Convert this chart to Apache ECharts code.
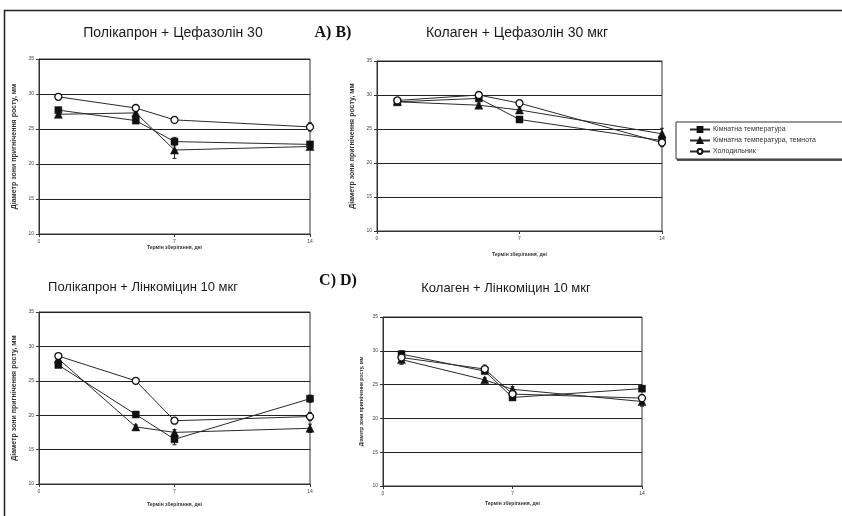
<!DOCTYPE html>
<html><head><meta charset="utf-8">
<script src="https://cdn.jsdelivr.net/npm/echarts@6/dist/echarts.min.js"></script>
<style>html,body{margin:0;padding:0;background:#fff}#c{width:842px;height:516px}</style>
</head><body><div id="c"></div>
<script>
// ---- data ----
const seriesNames = ['Кімнатна температура', 'Кімнатна температура, темнота', 'Холодильник'];
const panelTitles = ['Полікапрон + Цефазолін 30', 'Колаген + Цефазолін 30 мкг', 'Полікапрон + Лінкоміцин 10 мкг', 'Колаген + Лінкоміцин 10 мкг'];
const xTicks = [0, 7, 14];
const yTicks = [10, 15, 20, 25, 30, 35];
const yAxisTitle = 'Діаметр зони пригнічення росту, мм';
const xAxisTitle = 'Термін зберігання, дні';

const daysA = [1, 5, 7, 14];
const daysB = [1, 5, 7, 14];
const daysC = [1, 5, 7, 14];
const daysD = [1, 5.5, 7, 14];

// A) Полікапрон + Цефазолін 30
const aRoom = [27.7, 26.2, 23.2, 22.8];
const aDark = [27.1, 27.3, 22.0, 22.5];
const aFridge = [29.6, 28.0, 26.3, 25.3];
const aRoomErr = [0.3, 0.3, 0.6, 0.3];
const aDarkErr = [0.3, 0.3, 1.2, 0.3];
const aFridgeErr = [0.2, 0.2, 0.4, 0.6];

// B) Колаген + Цефазолін 30 мкг
const bRoom = [29.0, 29.5, 26.4, 23.3];
const bDark = [29.0, 28.5, 27.8, 24.3];
const bFridge = [29.2, 30.0, 28.8, 23.0];
const bRoomErr = [0.2, 0.3, 0.3, 0.3];
const bDarkErr = [0.2, 0.3, 0.3, 0.8];
const bFridgeErr = [0.2, 0.3, 0.3, 0.6];

// C) Полікапрон + Лінкоміцин 10 мкг
const cRoom = [27.3, 20.1, 16.5, 22.4];
const cDark = [28.2, 18.3, 17.5, 18.1];
const cFridge = [28.6, 25.0, 19.2, 19.8];
const cRoomErr = [0.3, 0.3, 0.8, 0.5];
const cDarkErr = [0.2, 0.3, 0.4, 0.6];
const cFridgeErr = [0.2, 0.2, 0.3, 0.6];

// D) Колаген + Лінкоміцин 10 мкг
const dRoom = [29.5, 27.0, 23.1, 24.4];
const dDark = [28.7, 25.7, 24.3, 22.5];
const dFridge = [29.0, 27.3, 23.6, 23.0];
const dRoomErr = [0.5, 0.3, 0.3, 0.4];
const dDarkErr = [0.7, 0.3, 0.4, 0.7];
const dFridgeErr = [0.4, 0.6, 0.4, 0.5];

// ---- layout / style ----
const panels = [
  {days: daysA, vals: [aRoom, aDark, aFridge], errs: [aRoomErr, aDarkErr, aFridgeErr],
   grid: {left: 39, top: 59, width: 271, height: 175}, yName: {size: 7, gap: 21}, xName: {size: 5, gap: 11}},
  {days: daysB, vals: [bRoom, bDark, bFridge], errs: [bRoomErr, bDarkErr, bFridgeErr],
   grid: {left: 377, top: 61, width: 285, height: 170}, yName: {size: 7, gap: 21}, xName: {size: 5, gap: 21}},
  {days: daysC, vals: [cRoom, cDark, cFridge], errs: [cRoomErr, cDarkErr, cFridgeErr],
   grid: {left: 39, top: 312, width: 271, height: 172}, yName: {size: 7, gap: 21}, xName: {size: 5, gap: 18}},
  {days: daysD, vals: [dRoom, dDark, dFridge], errs: [dRoomErr, dDarkErr, dFridgeErr],
   grid: {left: 383, top: 317, width: 259, height: 169}, yName: {size: 5, gap: 19}, xName: {size: 5, gap: 15}}
];
const symbols = ['rect', 'triangle', 'circle'];
const lineColor = '#2a2a2a';

const grids = [], xAxes = [], yAxes = [], series = [];
panels.forEach((p, i) => {
  grids.push(Object.assign({show: true, borderColor: '#333', borderWidth: 1, backgroundColor: '#fff'}, p.grid));
  xAxes.push({
    type: 'value', gridIndex: i, min: xTicks[0], max: xTicks[xTicks.length - 1], interval: 7,
    name: xAxisTitle, nameLocation: 'middle', nameGap: p.xName.gap,
    nameTextStyle: {fontSize: p.xName.size, fontWeight: 'bold', color: '#333', fontFamily: 'Liberation Sans'},
    axisLine: {show: true, onZero: false, lineStyle: {color: '#333', width: 1}},
    axisTick: {show: true, length: 3, lineStyle: {color: '#333'}},
    axisLabel: {fontSize: 5, color: '#444', margin: 5, fontFamily: 'Liberation Sans'},
    splitLine: {show: false}
  });
  yAxes.push({
    type: 'value', gridIndex: i, min: yTicks[0], max: yTicks[yTicks.length - 1], interval: 5,
    name: yAxisTitle, nameLocation: 'middle', nameGap: p.yName.gap, nameRotate: 90,
    nameTextStyle: {fontSize: p.yName.size, fontWeight: 'bold', color: '#333', fontFamily: 'Liberation Sans'},
    axisLine: {show: true, lineStyle: {color: '#333', width: 1}},
    axisTick: {show: true, length: 3, lineStyle: {color: '#333'}},
    axisLabel: {fontSize: 5, color: '#444', margin: 5, fontFamily: 'Liberation Sans'},
    splitLine: {show: true, lineStyle: {color: '#222', width: 1.2}}
  });
  const errData = [];
  seriesNames.forEach((name, k) => {
    const data = p.days.map((d, j) => [d, p.vals[k][j]]);
    p.days.forEach((d, j) => errData.push([d, p.vals[k][j], p.errs[k][j]]));
    series.push({
      type: 'line', name: name, xAxisIndex: i, yAxisIndex: i, data: data,
      symbol: symbols[k], symbolSize: k === 1 ? 8 : 7, showAllSymbol: true,
      lineStyle: {color: lineColor, width: 1},
      itemStyle: k === 2 ? {color: '#fff', borderColor: '#111', borderWidth: 1.3} : {color: '#111', borderColor: '#111', borderWidth: 0.5},
      z: 5 + k, animation: false, silent: true
    });
  });
  series.push({
    type: 'custom', xAxisIndex: i, yAxisIndex: i, data: errData, z: 4, animation: false, silent: true,
    renderItem: function (params, api) {
      const x = api.value(0), y = api.value(1), e = api.value(2);
      const hi = api.coord([x, y + e]);
      const lo = api.coord([x, y - e]);
      const st = {stroke: '#222', lineWidth: 1};
      return {type: 'group', children: [
        {type: 'line', shape: {x1: hi[0], y1: hi[1], x2: lo[0], y2: lo[1]}, style: st},
        {type: 'line', shape: {x1: hi[0] - 2, y1: hi[1], x2: hi[0] + 2, y2: hi[1]}, style: st},
        {type: 'line', shape: {x1: lo[0] - 2, y1: lo[1], x2: lo[0] + 2, y2: lo[1]}, style: st}
      ]};
    }
  });
});

const titlePos = [[173, 33], [517, 33], [143, 287], [506, 288]];
const titleSize = [14, 14, 13, 13];
const graphics = [
  {type: 'line', shape: {x1: 4, y1: 10.5, x2: 842, y2: 10.5}, style: {stroke: '#222', lineWidth: 1.5}},
  {type: 'line', shape: {x1: 4.5, y1: 10, x2: 4.5, y2: 516}, style: {stroke: '#222', lineWidth: 1.5}},
  {type: 'rect', shape: {x: 677, y: 123, width: 180, height: 38}, style: {fill: '#555', stroke: null}},
  {type: 'rect', shape: {x: 676, y: 122, width: 180, height: 37}, style: {fill: '#fff', stroke: '#333', lineWidth: 1}},
  {type: 'text', style: {text: 'A) B)', x: 333, y: 33, fontSize: 16, fontWeight: 'bold', fontFamily: 'Liberation Serif', fill: '#111', textAlign: 'center', textVerticalAlign: 'middle'}},
  {type: 'text', style: {text: 'C) D)', x: 338, y: 281, fontSize: 16, fontWeight: 'bold', fontFamily: 'Liberation Serif', fill: '#111', textAlign: 'center', textVerticalAlign: 'middle'}}
];
panelTitles.forEach((t, i) => {
  graphics.push({type: 'text', z: 10, style: {text: t, x: titlePos[i][0], y: titlePos[i][1], fontSize: titleSize[i],
    fill: '#1a1a1a', fontFamily: 'Liberation Sans', textAlign: 'center', textVerticalAlign: 'middle'}});
});

const chart = echarts.init(document.getElementById('c'), null, {renderer: 'canvas'});
chart.setOption({
  animation: false,
  backgroundColor: '#fff',
  grid: grids, xAxis: xAxes, yAxis: yAxes, series: series,
  legend: {
    data: seriesNames, orient: 'vertical', left: 684, top: 121, itemGap: 4,
    itemWidth: 20, itemHeight: 6, selectedMode: false, z: 20,
    textStyle: {fontSize: 7, color: '#333', fontFamily: 'Liberation Sans', padding: [0, 0, 0, -2]}
  },
  graphic: {elements: graphics}
});
</script></body></html>
